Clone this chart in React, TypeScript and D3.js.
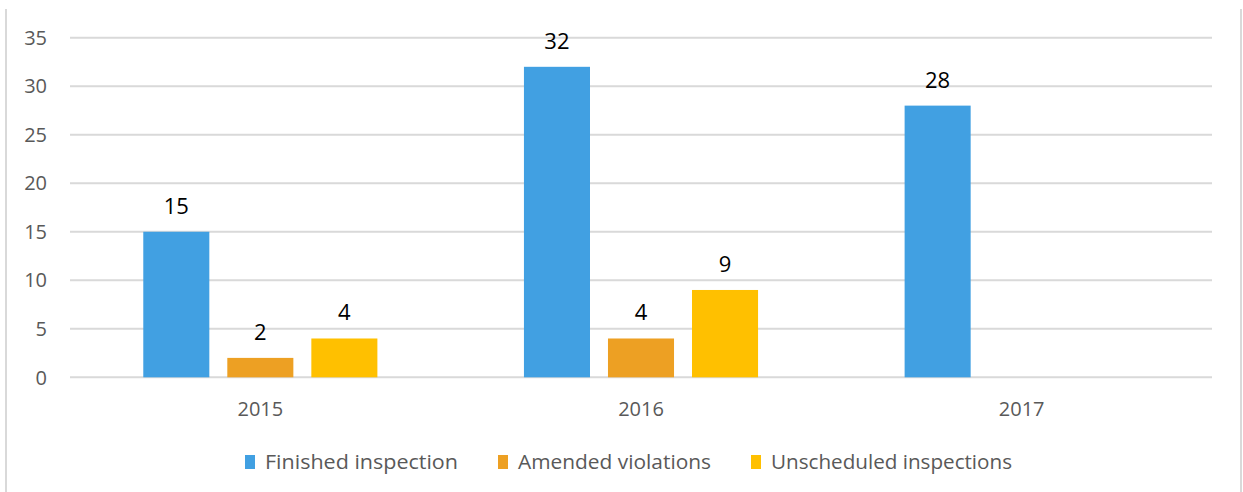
import { useMemo } from "react";
import * as d3 from "d3";

const WIDTH = 1243;
const HEIGHT = 492;

const YEARS = ["2015", "2016", "2017"];
const SERIES = ["Finished inspection", "Amended violations", "Unscheduled inspections"];
const COLORS = ["#41A0E2", "#EDA023", "#FFC000"];
const FINISHED = [15, 32, 28];
const AMENDED = [2, 4, null];
const UNSCHEDULED = [4, 9, null];
const Y_TICKS = [0, 5, 10, 15, 20, 25, 30, 35];

const VALUES = [FINISHED, AMENDED, UNSCHEDULED];

const FONT = "'Open Sans', 'Noto Sans', sans-serif";
const GRID = "#D9D9D9";
const TEXT = "#595959";

const M = { left: 70, right: 1212, top: 37.7, bottom: 377.3 };

// legend layout (label widths follow the reference's stretched text)
const LEGEND_X = 245;
const LEGEND_Y = 462;
const LEGEND_WIDTHS = [193, 193, 241];
const LEGEND_GAP = 40;

export default function App() {
  const { x0, x1, y } = useMemo(() => {
    const x0 = d3.scaleBand<string>().domain(YEARS).range([M.left, M.right]).padding(0);
    const bw = x0.bandwidth();
    // bars 66px wide with 18px gaps, group centred in band
    const groupW = bw * 0.615;
    const x1 = d3
      .scaleBand<string>()
      .domain(SERIES)
      .range([(bw - groupW) / 2, (bw + groupW) / 2])
      .paddingInner(0.214)
      .paddingOuter(0);
    const y = d3.scaleLinear().domain([0, 35]).range([M.bottom, M.top]);
    return { x0, x1, y };
  }, []);

  // legend item x positions
  let lx = LEGEND_X;
  const legendItems = SERIES.map((s, i) => {
    const item = { name: s, color: COLORS[i], x: lx, w: LEGEND_WIDTHS[i] };
    lx += 10 + 10 + LEGEND_WIDTHS[i] + LEGEND_GAP;
    return item;
  });

  return (
    <div style={{ position: "fixed", left: 0, top: 0, background: "#fff" }}>
      <svg width={WIDTH} height={HEIGHT} style={{ display: "block" }} fontFamily={FONT}>
        <rect width={WIDTH} height={HEIGHT} fill="#fff" />
        {/* chart frame edges */}
        <line x1={6} x2={6} y1={9} y2={HEIGHT} stroke={GRID} strokeWidth={2} />
        <line x1={1241} x2={1241} y1={9} y2={HEIGHT} stroke={GRID} strokeWidth={2} />

        {/* gridlines + y labels */}
        {Y_TICKS.map((t) => (
          <g key={t}>
            <line x1={M.left} x2={M.right} y1={y(t)} y2={y(t)} stroke={GRID} strokeWidth={2} />
            <text
              x={47}
              y={y(t)}
              dy="0.36em"
              textAnchor="end"
              fontSize={20}
              fill={TEXT}
            >
              {t}
            </text>
          </g>
        ))}

        {/* bars */}
        {YEARS.map((yr, ci) => (
          <g key={yr} transform={`translate(${x0(yr)},0)`}>
            {SERIES.map((s, si) => {
              const v = VALUES[si][ci];
              if (v == null) return null;
              const bx = x1(s)!;
              return (
                <g key={s}>
                  <rect
                    x={bx}
                    y={y(v)}
                    width={x1.bandwidth()}
                    height={y(0) - y(v)}
                    fill={COLORS[si]}
                  />
                  <text
                    x={bx + x1.bandwidth() / 2}
                    y={y(v) - 18}
                    textAnchor="middle"
                    fontSize={22}
                    fill="#000"
                  >
                    {v}
                  </text>
                </g>
              );
            })}
          </g>
        ))}

        {/* x labels */}
        {YEARS.map((yr) => (
          <text
            key={yr}
            x={x0(yr)! + x0.bandwidth() / 2}
            y={416}
            textAnchor="middle"
            fontSize={20}
            fill={TEXT}
          >
            {yr}
          </text>
        ))}

        {/* legend */}
        {legendItems.map((it) => (
          <g key={it.name}>
            <rect x={it.x} y={LEGEND_Y - 7} width={10} height={14} fill={it.color} />
            <text
              x={it.x + 20}
              y={LEGEND_Y + 7}
              fontSize={20}
              fill={TEXT}
              textLength={it.w}
              lengthAdjust="spacingAndGlyphs"
            >
              {it.name}
            </text>
          </g>
        ))}
      </svg>
    </div>
  );
}
